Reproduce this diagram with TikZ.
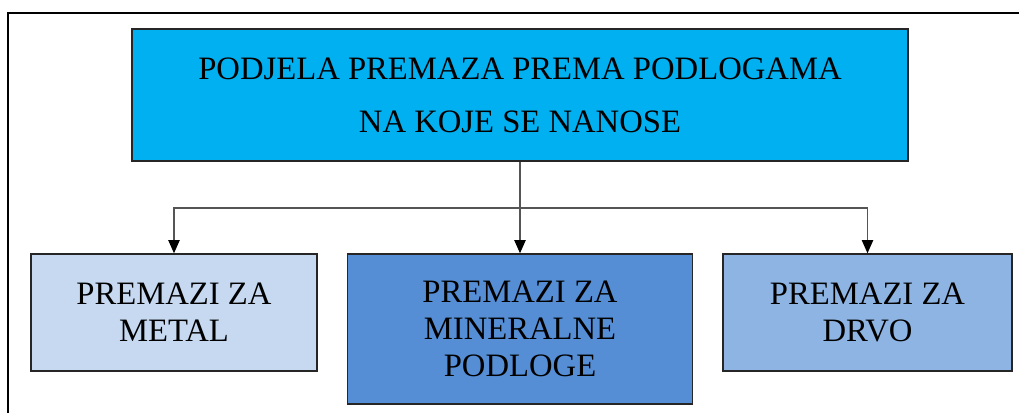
\documentclass[tikz,border=0pt]{standalone}
\usepackage{fontspec}
\setmainfont{Liberation Serif}
\usetikzlibrary{arrows.meta}
\definecolor{topc}{HTML}{00B0F0}
\definecolor{leftc}{HTML}{C6D9F1}
\definecolor{midc}{HTML}{558ED5}
\definecolor{rightc}{HTML}{8EB4E3}
\definecolor{linec}{HTML}{555555}
\tikzset{
  box/.style={draw=black!85, line width=1pt, inner sep=0pt, align=center,
    font=\fontsize{24.5}{27.75}\selectfont},
  arr/.style={draw=linec, line width=1.1pt, -{Triangle[width=8.5pt,length=10pt,fill=black,color=black]}}
}
\begin{document}
\begin{tikzpicture}[x=0.75pt,y=-0.75pt]
\useasboundingbox (0,0) rectangle (1019,412);
\clip (0,0) rectangle (1019,412);
\draw[line width=1.6pt] (8,420) -- (8,13) -- (1030,13);
\node[box, fill=topc, minimum width=582pt, minimum height=99pt,
  font=\fontsize{24.5}{39.75}\selectfont] (top) at (520,95)
  {PODJELA PREMAZA PREMA PODLOGAMA\\NA KOJE SE NANOSE};
\node[box, fill=leftc, minimum width=214.5pt, minimum height=87.75pt] (left) at (174,312.5)
  {PREMAZI ZA\\METAL};
\node[box, fill=midc, minimum width=258.75pt, minimum height=112.5pt] (mid) at (520,329)
  {PREMAZI ZA\\MINERALNE\\PODLOGE};
\node[box, fill=rightc, minimum width=216.75pt, minimum height=87.75pt] (right) at (867.5,312.5)
  {PREMAZI ZA\\DRVO};
\coordinate (j) at (520,208);
\draw[arr] (top.south) -- (mid.north);
\draw[arr] (j) -| (left.north);
\draw[arr] (j) -| (right.north);
\end{tikzpicture}
\end{document}
